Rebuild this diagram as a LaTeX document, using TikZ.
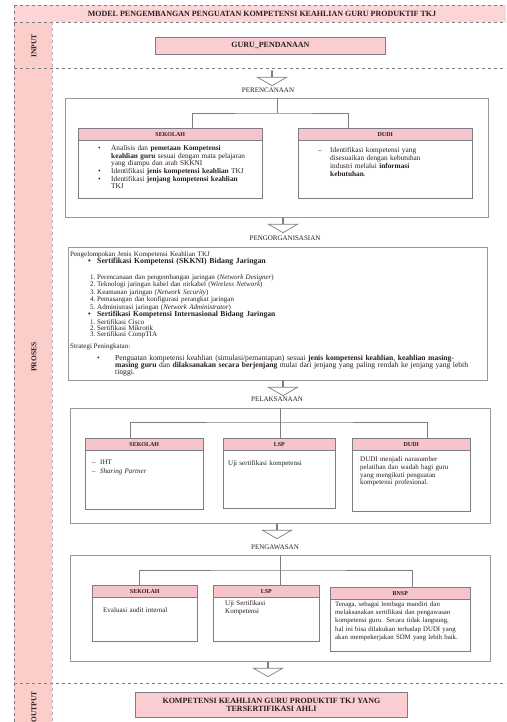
\documentclass[tikz,border=0pt]{standalone}
\usepackage{fontspec}
\setmainfont{Liberation Serif}
\usetikzlibrary{shapes.arrows,calc}
\definecolor{stripPink}{RGB}{251,206,202}
\definecolor{titlePink}{RGB}{252,214,214}
\definecolor{hdrPink}{RGB}{246,196,203}
\definecolor{boxPink}{RGB}{250,205,208}
\definecolor{lineG}{RGB}{125,125,135}
\definecolor{secG}{RGB}{150,152,160}
\definecolor{txt}{RGB}{40,30,35}
\hyphenpenalty=10000
\exhyphenpenalty=10000
\setlength{\parindent}{0pt}
\newcommand{\fs}[2]{\fontsize{#1}{#2}\selectfont}
\newcommand{\bitem}[3]{\noindent\makebox[#1][l]{#2}\parbox[t]{\dimexpr\linewidth-#1\relax}{\parindent=0pt\raggedright #3}\par}
\tikzset{
  sectbox/.style={draw=secG, line width=1.1pt, fill=white, rectangle, inner sep=0pt, anchor=north west},
  subbox/.style={draw=lineG, line width=0.9pt, fill=white, rectangle, inner sep=0pt, anchor=north west},
  hdrbox/.style={draw=lineG, line width=0.5pt, fill=hdrPink, rectangle, inner sep=0pt, anchor=north west, minimum height=12pt, font=\fs{6}{6}\bfseries, text=txt},
  seclabel/.style={font=\fs{7}{8}, text=txt, inner sep=0pt},
  bodytext/.style={font=\fs{7}{7.5}, text=txt, align=left, anchor=north west, inner sep=0pt},
  flowarrow/.style={single arrow, draw=lineG, fill=white, line width=0.7pt, shape border rotate=270, minimum height=15pt, minimum width=29pt, single arrow head extend=9pt, single arrow tip angle=120, inner sep=0pt},
  conn/.style={draw=lineG, line width=0.9pt},
  sidelabel/.style={rotate=90, font=\fs{7.5}{8}\bfseries, text=txt, inner sep=0pt},
  pinkbox/.style={draw=lineG, line width=0.8pt, fill=boxPink, rectangle, inner sep=0pt, anchor=north west, align=center, font=\fs{8}{8.5}\bfseries, text=txt},
  sepline/.style={draw=lineG, dashed, line width=0.6pt},
}
\begin{document}
\begin{tikzpicture}[x=1pt,y=-1pt]
\useasboundingbox (0,0) rectangle (506,722);
% backgrounds
\fill[titlePink] (14,5) rectangle (506,22);
\fill[stripPink] (14,22) rectangle (52,722);
\draw[sepline] (14,5) -- (506,5);
\draw[sepline] (14,5) -- (14,722);
\draw[sepline] (14,22) -- (506,22);
\draw[sepline] (14,68) -- (506,68);
\draw[sepline] (14,683) -- (506,683);
\draw[draw=lineG!60, dashed, line width=0.4pt] (52,22) -- (52,722);
\node[font=\fs{8}{9}\bfseries, text=txt, inner sep=0pt] (title) at (262,14) {MODEL PENGEMBANGAN PENGUATAN KOMPETENSI KEAHLIAN GURU PRODUKTIF TKJ};
\node[sidelabel] (lin) at (34,46) {INPUT};
\node[sidelabel] (lpr) at (34,357) {PROSES};
\node[sidelabel] (lout) at (34,707) {OUTPUT};

% input
\node[pinkbox, minimum width=230pt, minimum height=17pt] (guru) at (155,37) {GURU\_PENDANAAN};

% arrows and labels
\node[flowarrow] (a0) at (272,78) {};
\node[seclabel] (t1) at (268,90) {PERENCANAAN};

% perencanaan
\node[sectbox, minimum width=423pt, minimum height=119pt] (per) at (65,98) {};
\node[subbox, minimum width=184pt, minimum height=70pt] (p1) at (78,128) {};
\node[hdrbox, minimum width=184pt] (p1h) at (p1.north west) {SEKOLAH};
\node[subbox, minimum width=174pt, minimum height=70pt] (p2) at (298,128) {};
\node[hdrbox, minimum width=174pt] (p2h) at (p2.north west) {DUDI};
\node[bodytext, text width=160pt, font=\fs{7.3}{7.6}] (p1b) at (98,145.5) {%
\bitem{13pt}{\textbullet}{Analisis dan \textbf{pemetaan Kompetensi}\\\textbf{keahlian guru} sesuai dengan mata pelajaran\\yang diampu dan arah SKKNI}%
\bitem{13pt}{\textbullet}{Identifikasi \textbf{jenis kompetensi keahlian} TKJ}%
\bitem{13pt}{\textbullet}{Identifikasi \textbf{jenjang kompetensi keahlian}\\TKJ}};
\node[bodytext, text width=130pt, font=\fs{7.3}{8}] (p2b) at (318,147.5) {%
\bitem{12pt}{--}{Identifikasi kompetensi yang\\disesuaikan dengan kebutuhan\\industri melalui \textbf{informasi}\\\textbf{kebutuhan}.}};
\draw[conn] (per.north) -- ++(0,15) coordinate (pj);
\draw[conn] ($(p1h.north west)!0.62!(p1h.north east)$) |- (pj) -| ($(p2h.north west)!0.29!(p2h.north east)$);

% pengorganisasian
\node[flowarrow] (a1) at (283,225) {};
\node[seclabel] (t2) at (285,238) {PENGORGANISASIAN};
\node[sectbox, minimum width=419pt, minimum height=133pt] (org) at (68,247) {};
\node[bodytext, text width=410pt, font=\fs{7}{7}] (o1) at (70,251) {%
Pengelompokan Jenis Kompetensi Keahlian TKJ};
\node[bodytext, text width=390pt, font=\fs{7.8}{8}\bfseries] (o1b) at (88,257.5) {%
\makebox[9pt][l]{\textbullet}Sertifikasi Kompetensi (SKKNI) Bidang Jaringan};
\node[bodytext, text width=390pt, font=\fs{7}{6.3}] (o2) at (90,274.5) {%
\makebox[7pt][l]{1.}Perencanaan dan pengembangan jaringan (\textit{Network Designer})\par
\makebox[7pt][l]{2.}Teknologi jaringan kabel dan nirkabel (\textit{Wireless Network})\par
\makebox[7pt][l]{3.}Keamanan jaringan (\textit{Network Security})\par
\makebox[7pt][l]{4.}Pemasangan dan konfigurasi perangkat jaringan\par
\makebox[7pt][l]{5.}Administrasi jaringan (\textit{Network Administrator})};
\node[bodytext, text width=390pt, font=\fs{7.6}{8}\bfseries] (o3) at (88,311) {%
\makebox[9pt][l]{\textbullet}Sertifikasi Kompetensi Internasional Bidang Jaringan};
\node[bodytext, text width=390pt, font=\fs{7}{6}] (o4) at (90,319.5) {%
\makebox[7pt][l]{1.}Sertifikasi Cisco\par
\makebox[7pt][l]{2.}Sertifikasi Mikrotik\par
\makebox[7pt][l]{3.}Sertifikasi CompTIA};
\node[bodytext, font=\fs{7}{7}] (o5) at (70,343.5) {Strategi Peningkatan:};
\node[bodytext, text width=384pt, font=\fs{7.6}{7}] (o6) at (97,355) {%
\bitem{18pt}{\textbullet}{Penguatan kompetensi keahlian (simulasi/pemantapan) sesuai \textbf{jenis kompetensi keahlian}, \textbf{keahlian masing-}\\\textbf{masing guru} dan \textbf{dilaksanakan secara berjenjang} mulai dari jenjang yang paling rendah ke jenjang yang lebih\\tinggi.}};

% pelaksanaan
\node[flowarrow] (a2) at (283,388) {};
\node[seclabel] (t3) at (277,399) {PELAKSANAAN};
\node[sectbox, minimum width=420pt, minimum height=115pt] (pel) at (70,408) {};
\node[subbox, minimum width=118pt, minimum height=71pt] (l1) at (85,438) {};
\node[hdrbox, minimum width=118pt] (l1h) at (l1.north west) {SEKOLAH};
\node[subbox, minimum width=112pt, minimum height=70pt] (l2) at (223,438) {};
\node[hdrbox, minimum width=112pt] (l2h) at (l2.north west) {LSP};
\node[subbox, minimum width=118pt, minimum height=73pt] (l3) at (352,438) {};
\node[hdrbox, minimum width=118pt] (l3h) at (l3.north west) {DUDI};
\node[bodytext, text width=100pt, font=\fs{7}{9.5}] (l1b) at (92,459.5) {%
\bitem{8pt}{--}{IHT}%
\bitem{8pt}{--}{\textit{Sharing Partner}}};
\node[bodytext, text width=100pt] (l2b) at (228,460.5) {Uji sertifikasi kompetensi};
\node[bodytext, text width=108pt, font=\fs{7}{7.8}] (l3b) at (360,456.5) {DUDI menjadi narasumber\\pelatihan dan wadah bagi guru\\yang mengikuti penguatan\\kompetensi profesional.};
\draw[conn] (pel.north) -- ++(0,14) coordinate (lj);
\draw[conn] (lj) -- (lj |- l2h.north);
\draw[conn] ($(l1h.north west)!0.38!(l1h.north east)$) |- (lj) -| ($(l3h.north west)!0.64!(l3h.north east)$);

% pengawasan
\node[flowarrow] (a3) at (277,531) {};
\node[seclabel] (t4) at (275,547) {PENGAWASAN};
\node[sectbox, minimum width=420pt, minimum height=106pt] (pen) at (70,555) {};
\node[subbox, minimum width=105pt, minimum height=56pt] (w1) at (92,585) {};
\node[hdrbox, minimum width=105pt] (w1h) at (w1.north west) {SEKOLAH};
\node[subbox, minimum width=106pt, minimum height=56pt] (w2) at (213,585) {};
\node[hdrbox, minimum width=106pt] (w2h) at (w2.north west) {LSP};
\node[subbox, minimum width=140pt, minimum height=64pt] (w3) at (330,587) {};
\node[hdrbox, minimum width=140pt] (w3h) at (w3.north west) {BNSP};
\node[bodytext, text width=90pt] (w1b) at (103,607.5) {Evaluasi audit internal};
\node[bodytext, text width=80pt] (w2b) at (225,600.5) {Uji Sertifikasi\\Kompetensi};
\node[bodytext, text width=134pt, font=\fs{6.8}{8.2}] (w3b) at (335,601.5) {Tenaga, sebagai lembaga mandiri dan\\melaksanakan sertifikasi dan pengawasan\\kompetensi guru. Secara tidak langsung,\\hal ini bisa dilakukan terhadap DUDI yang\\akan mempekerjakan SDM yang lebih baik.};
\draw[conn] (pen.north) -- ++(0,15) coordinate (wj);
\draw[conn] (wj) -- (wj |- w2h.north);
\draw[conn] ($(w1h.north west)!0.45!(w1h.north east)$) |- (wj) -| ($(w3h.north west)!0.59!(w3h.north east)$);

% output
\node[flowarrow] (a4) at (268,669) {};
\node[pinkbox, minimum width=272pt, minimum height=25pt] (out) at (135,692) {KOMPETENSI KEAHLIAN GURU PRODUKTIF TKJ YANG\\TERSERTIFIKASI AHLI};
\end{tikzpicture}
\end{document}
